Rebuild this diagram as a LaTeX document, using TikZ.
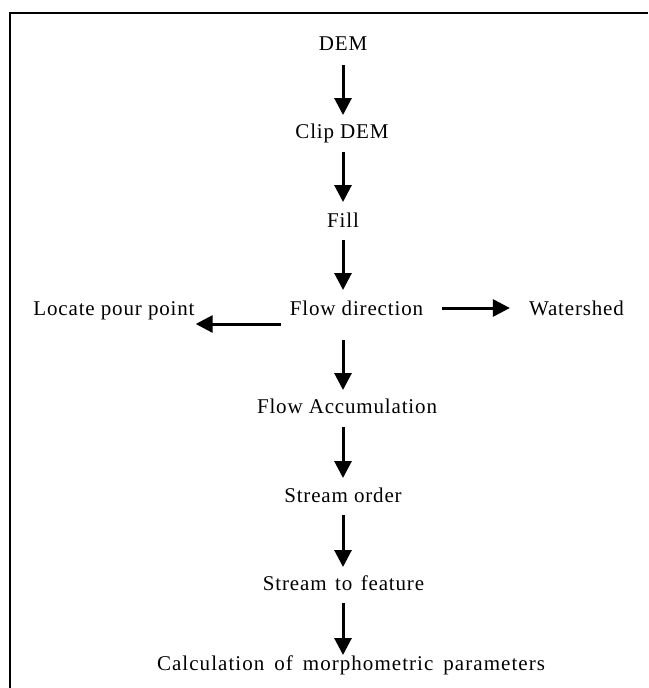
\documentclass[tikz,border=0pt]{standalone}
\usepackage{fontspec}
\setmainfont{Liberation Serif}[LetterSpace=4]
\newfontfamily\calcfont{Liberation Serif}[LetterSpace=5]
\usetikzlibrary{arrows.meta,calc}
\tikzset{
  lbl/.style={anchor=base, inner sep=0pt, font=\fontsize{21pt}{25pt}\selectfont},
  wsp/.style={execute at begin node={\spaceskip=#1\relax}},
  arr/.style={line width=3pt, -{Triangle[width=17pt,length=17pt]}},
  frame/.style={line width=2.5pt}
}
\begin{document}
\begin{tikzpicture}[x=1pt,y=-1pt]
\useasboundingbox (0,0) rectangle (648,688);
\draw[frame] (10,688) -- (10,13) -- (648,13);
\coordinate (col) at (343,0);
\node[lbl] (dem) at (343,50) {DEM};
\node[lbl] (clip) at (342,138) {Clip DEM};
\node[lbl] (fill) at (343,227) {Fill};
\node[lbl] (fd) at (356.5,315) {Flow direction};
\node[lbl] (lpp) at (114,315) {Locate pour point};
\node[lbl] (ws) at (576.5,315) {Watershed};
\node[lbl] (fa) at (347,413) {Flow Accumulation};
\node[lbl] (so) at (343,502) {Stream order};
\node[lbl, wsp=8.5pt] (stf) at (343.5,590) {Stream to feature};
\node[lbl] (calc) at (351,670) {\calcfont\spaceskip=10pt\relax Calculation of morphometric parameters};
\draw[arr] ($(dem.base -| col)+(0,15)$) -- ($(clip.base -| col)+(0,-23)$);
\draw[arr] ($(clip.base -| col)+(0,14)$) -- ($(fill.base -| col)+(0,-25)$);
\draw[arr] ($(fill.base -| col)+(0,13)$) -- ($(fd.base -| col)+(0,-25)$);
\draw[arr] ($(fd.base -| col)+(0,25)$) -- ($(fa.base -| col)+(0,-23)$);
\draw[arr] ($(fa.base -| col)+(0,14)$) -- ($(so.base -| col)+(0,-24)$);
\draw[arr] ($(so.base -| col)+(0,13)$) -- ($(stf.base -| col)+(0,-23)$);
\draw[arr] ($(stf.base -| col)+(0,13)$) -- ($(calc.base -| col)+(0,-15)$);
\draw[arr] ($(fd.base west)+(-9,9)$) -- ($(lpp.base east)+(1,9)$);
\draw[arr] ($(fd.base east)+(19,-7)$) -- ($(ws.base west)+(-19,-7)$);
\end{tikzpicture}
\end{document}
